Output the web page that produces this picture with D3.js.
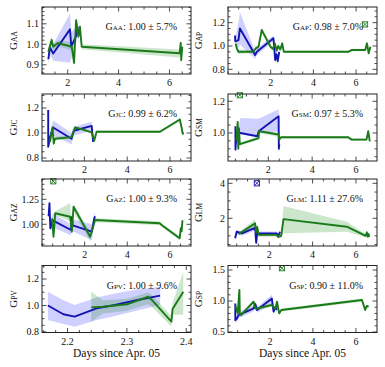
<!DOCTYPE html>
<html><head><meta charset="utf-8">
<script src="https://cdn.jsdelivr.net/npm/d3@7"></script>
<style>
body{margin:0;background:#fff}
svg text{font-family:"Liberation Serif","DejaVu Serif",serif;fill:#111}
</style></head><body>
<script>
// rows: [day, G, low, high]
const aaBlue = [[1.24,0.927,0.905,0.95],[1.30,0.985,0.95,1.01],[1.43,0.955,0.92,1.00],[2.09,1.073,0.91,1.15],[2.14,0.99,0.93,1.06],[2.33,1.04,1.00,1.08],[2.38,1.085,1.05,1.11],[2.42,1.05,1.02,1.08]];
const aaGreen = [[1.24,0.964,0.95,0.98],[1.37,1.021,1.0,1.04],[1.43,0.988,0.97,1.0],[1.62,1.006,0.99,1.02],[2.16,0.988,0.97,1.01],[2.25,0.909,0.89,0.93],[2.33,1.118,1.10,1.13],[2.42,1.037,1.02,1.05],[2.48,1.086,1.07,1.10],[2.55,0.988,0.976,1.0],[6.40,0.956,0.935,0.975],[6.44,1.006,0.99,1.02],[6.46,0.923,0.91,0.94],[6.50,0.988,0.975,1.0]];
const apBlue = [[0.33,1.09,1.07,1.11],[0.34,1.04,1.02,1.06],[0.49,1.05,0.98,1.20],[0.56,1.15,1.01,1.29],[1.27,0.923,0.89,0.955],[1.35,0.95,0.92,0.98],[2.13,1.066,1.04,1.09],[2.21,0.88,0.85,0.91],[2.27,0.93,0.90,0.96],[2.33,0.87,0.83,0.91],[2.40,0.95,0.92,0.98]];
const apGreen = [[0.36,1.02,1.0,1.04],[0.41,0.98,0.96,1.0],[0.49,0.951,0.93,0.97],[1.19,0.951,0.94,0.965],[1.30,0.98,0.965,0.995],[1.43,0.994,0.98,1.01],[1.58,1.137,1.12,1.15],[1.99,0.994,0.98,1.01],[2.10,0.975,0.96,0.99],[2.20,1.02,1.005,1.035],[2.28,0.96,0.945,0.975],[2.35,1.0,0.985,1.015],[2.45,0.97,0.955,0.985],[2.54,1.023,1.01,1.035],[2.61,0.951,0.94,0.96],[5.65,0.951,0.94,0.96],[5.81,0.966,0.955,0.977],[6.43,0.966,0.955,0.977],[6.51,1.023,1.01,1.035],[6.59,0.937,0.925,0.95],[6.67,0.994,0.98,1.005]];
const jcBlue = [[0.31,1.185,1.175,1.195],[0.31,0.89,0.88,0.90],[0.40,0.97,0.93,1.01],[0.54,1.044,0.98,1.10],[1.40,0.954,0.91,1.0],[1.51,1.018,0.98,1.05],[2.34,1.057,1.02,1.09],[2.41,0.928,0.91,0.95]];
const jcGreen = [[0.39,0.928,0.915,0.94],[0.51,1.044,1.03,1.06],[0.57,0.915,0.9,0.93],[0.62,0.954,0.94,0.97],[1.40,0.967,0.955,0.98],[1.56,1.044,1.03,1.055],[1.87,1.031,1.02,1.04],[2.34,1.005,0.995,1.015],[2.46,0.94,0.93,0.95],[2.57,1.01,1.0,1.02],[5.53,1.01,1.0,1.02],[6.46,1.108,1.095,1.12],[6.54,1.044,1.03,1.055],[6.59,0.995,0.985,1.005],[6.65,0.998,0.99,1.01]];
const smBlue = [[0.50,1.042,1.03,1.05],[0.50,0.895,0.89,0.90],[0.55,0.99,0.98,1.00],[0.73,1.00,0.99,1.095],[1.50,0.979,0.975,1.09],[1.56,1.011,1.00,1.09],[2.47,1.105,1.01,1.15],[2.48,0.90,0.89,0.91],[2.50,0.93,0.92,0.94]];
const smGreen = [[0.55,0.95,0.94,0.96],[0.60,1.07,1.06,1.08],[0.63,0.90,0.89,0.91],[0.66,1.03,1.02,1.04],[0.70,0.93,0.92,0.94],[1.56,0.968,0.955,0.98],[1.58,1.011,1.0,1.02],[2.47,0.99,0.975,1.0],[2.50,0.96,0.95,0.97],[2.59,0.973,0.965,0.98],[5.65,0.973,0.965,0.98],[5.80,0.958,0.95,0.966],[6.48,0.958,0.95,0.966],[6.56,1.011,1.0,1.02],[6.63,0.947,0.94,0.955]];
const azBlue = [[0.31,1.08,1.05,1.11],[0.35,1.21,1.18,1.24],[0.39,0.96,0.93,0.99],[0.50,1.04,0.97,1.11],[1.36,0.943,0.89,1.0],[1.40,1.07,1.01,1.12],[1.44,0.99,0.93,1.05],[2.34,0.926,0.84,1.0],[2.45,1.06,1.02,1.10],[2.49,1.08,1.05,1.11]];
const azGreen = [[0.47,1.06,1.04,1.08],[0.54,0.876,0.86,0.89],[0.62,1.11,1.09,1.13],[1.32,1.076,1.03,1.21],[1.40,0.926,0.91,0.94],[1.48,1.176,1.12,1.20],[2.26,0.876,0.83,0.92],[2.49,1.043,1.02,1.06],[5.53,1.01,0.99,1.03],[5.61,0.993,0.975,1.01],[6.46,0.86,0.84,0.88],[6.51,0.96,0.945,0.975],[6.55,0.93,0.915,0.945],[6.59,1.04,1.025,1.055]];
const lmBlue = [[0.43,0.86,0.75,0.95],[0.50,1.23,1.1,1.35],[0.74,1.14,1.0,1.25],[1.35,1.45,1.3,1.6],[1.40,0.6,0.5,0.7],[1.45,1.2,1.1,1.3],[1.51,1.14,1.0,1.25],[2.35,1.14,1.0,1.25],[2.40,0.95,0.85,1.05],[2.50,1.23,1.1,1.35]];
const lmGreen = [[0.59,1.1,1.0,1.2],[1.35,1.71,1.4,1.95],[1.40,1.2,1.1,1.3],[1.45,1.5,1.35,1.65],[1.51,1.05,0.95,1.15],[2.35,1.05,0.95,1.15],[2.45,0.95,0.85,1.05],[2.55,1.0,0.9,1.1],[2.66,1.95,1.14,2.70],[5.58,1.52,1.23,1.81],[6.45,1.0,0.9,1.1],[6.50,1.2,1.1,1.3],[6.55,0.95,0.85,1.05],[6.58,1.1,1.0,1.2],[6.62,0.95,0.85,1.05]];
const pvBlue = [[2.167,1.0,0.89,1.104],[2.193,0.934,0.86,1.04],[2.212,0.916,0.84,1.004],[2.249,0.979,0.89,1.06],[2.280,1.004,0.92,1.09],[2.316,1.04,0.96,1.12],[2.356,1.074,1.004,1.14]];
const pvGreen = [[2.240,0.986,0.878,1.104],[2.260,0.991,0.94,1.04],[2.300,1.009,0.96,1.05],[2.336,1.066,1.01,1.10],[2.342,1.042,0.99,1.08],[2.375,0.878,0.84,0.92],[2.377,0.974,0.93,1.02],[2.395,1.104,0.93,1.255]];
const spBlue = [[0.39,0.96,0.93,0.99],[0.39,0.69,0.65,0.73],[0.47,0.72,0.66,0.78],[0.54,0.774,0.72,0.83],[1.24,0.88,0.83,0.93],[1.32,0.95,0.90,1.0],[1.40,0.855,0.81,0.90],[2.09,1.04,0.95,1.10],[2.17,0.83,0.78,0.88],[2.25,0.90,0.86,0.94],[2.33,0.86,0.82,0.90]];
const spGreen = [[0.39,0.93,0.91,0.95],[0.50,0.80,0.78,0.82],[0.58,1.18,1.16,1.20],[0.60,0.80,0.78,0.82],[0.66,0.774,0.75,0.80],[1.24,0.99,0.96,1.02],[1.32,0.88,0.85,0.91],[1.40,0.88,0.85,0.91],[2.09,0.935,0.91,0.96],[2.25,0.87,0.84,0.90],[2.33,0.99,0.96,1.02],[2.43,0.80,0.78,0.82],[2.53,0.855,0.83,0.88],[6.28,1.016,0.99,1.04],[6.43,0.855,0.83,0.88],[6.50,0.92,0.9,0.94],[6.59,0.908,0.89,0.93]];

const stations = ["AA", "AP", "JC", "SM", "AZ", "LM", "PV", "SP"];
const gainText = ["1.00 ± 5.7%", "0.98 ± 7.0%", "0.99 ± 6.2%", "0.97 ± 5.3%", "1.00 ± 9.3%", "1.11 ± 27.6%", "1.00 ± 9.6%", "0.90 ± 11.0%"];
const blueSeries = [aaBlue, apBlue, jcBlue, smBlue, azBlue, lmBlue, pvBlue, spBlue];
const greenSeries = [aaGreen, apGreen, jcGreen, smGreen, azGreen, lmGreen, pvGreen, spGreen];

const xDomains = [[0.99,6.845],[0.0,6.98],[0.02,6.98],[0.16,6.96],[0.0,6.99],[0.1,6.97],[2.157,2.408],[0.05,6.98]];
const yDomains = [[0.855,1.182],[0.76,1.334],[0.776,1.312],[0.823,1.246],[0.783,1.453],[0.417,4.246],[0.796,1.302],[0.492,1.573]];
const xTicks = [[2,4,6],[2,4,6],[2,4,6],[2,4,6],[2,4,6],[2,4,6],[2.2,2.3,2.4],[2,4,6]];
const yTicks = [[0.9,1.0,1.1],[0.8,1.0,1.2],[0.8,1.0,1.2],[1.0,1.2],[1.00,1.25],[2,4],[0.8,1.0,1.2],[0.5,1.0,1.5]];
const xMinor = [0.5,0.5,0.5,0.5,0.5,0.5,0.02,0.5];
const yMinor = [0.02,0.05,0.05,0.05,0.05,0.5,0.05,0.1];
const yDecimals = [1,1,1,1,2,0,1,1];
const xDecimals = [0,0,0,0,0,0,1,0];

// points drawn with a boxed-x marker
const flagPanel = [1, 3, 4, 5, 7];
const flagDay = [6.42, 0.70, 0.53, 1.43, 2.56];
const flagG = [1.185, 1.238, 1.43, 4.0, 1.53];
const flagSeries = ["green", "green", "green", "blue", "green"];

const W = 385, H = 367;
const colX = [42, 228], frameW = 149;
const rowY = [7, 94, 179, 265.5], frameH = 67;
const lineCol = {blue: "#1414b0", green: "#1a7a1a"};
const fillCol = {blue: "rgba(60,60,255,0.24)", green: "rgba(0,128,0,0.2)"};

const svg = d3.select("body").append("svg").attr("width", W).attr("height", H);

function minorVals(dom, step, majors) {
  const out = [];
  for (let k = Math.ceil(dom[0] / step - 1e-9); k * step <= dom[1] + 1e-9; k++) {
    const v = k * step;
    if (!majors.some(m => Math.abs(m - v) < step / 10)) out.push(v);
  }
  return out;
}

stations.forEach((name, i) => {
  const c = i % 2, r = Math.floor(i / 2);
  const g = svg.append("g").attr("transform", `translate(${colX[c]},${rowY[r]})`);
  const x = d3.scaleLinear().domain(xDomains[i]).range([0, frameW]);
  const y = d3.scaleLinear().domain(yDomains[i]).range([frameH, 0]);

  svg.append("clipPath").attr("id", "clip" + i)
    .append("rect").attr("width", frameW).attr("height", frameH);
  const plot = g.append("g").attr("clip-path", `url(#clip${i})`);

  const area = d3.area().x(d => x(d[0])).y0(d => y(d[2])).y1(d => y(d[3]));
  const line = d3.line().x(d => x(d[0])).y(d => y(d[1]));

  plot.append("path").attr("d", area(blueSeries[i])).attr("fill", fillCol.blue);
  plot.append("path").attr("d", area(greenSeries[i])).attr("fill", fillCol.green);
  plot.append("path").attr("d", line(blueSeries[i])).attr("fill", "none")
    .attr("stroke", lineCol.blue).attr("stroke-width", 1.9).attr("stroke-linejoin", "round");
  plot.append("path").attr("d", line(greenSeries[i])).attr("fill", "none")
    .attr("stroke", lineCol.green).attr("stroke-width", 1.9).attr("stroke-linejoin", "round");

  flagPanel.forEach((p, j) => {
    if (p !== i) return;
    const cx = x(flagDay[j]), cy = y(flagG[j]), s = 2.6;
    const m = g.append("g").attr("stroke", lineCol[flagSeries[j]]).attr("stroke-width", 0.9).attr("fill", "none");
    m.append("rect").attr("x", cx - s).attr("y", cy - s).attr("width", 2 * s).attr("height", 2 * s);
    m.append("path").attr("d", `M${cx - s},${cy - s}L${cx + s},${cy + s}M${cx + s},${cy - s}L${cx - s},${cy + s}`);
  });

  g.append("rect").attr("width", frameW).attr("height", frameH)
    .attr("fill", "none").attr("stroke", "#222").attr("stroke-width", 1);

  const tk = g.append("g").attr("stroke", "#222").attr("stroke-width", 0.8);
  const xm = xTicks[i], ym = yTicks[i];
  const xn = minorVals(xDomains[i], xMinor[i], xm), yn = minorVals(yDomains[i], yMinor[i], ym);
  const vt = (vals, len) => vals.forEach(v => {
    tk.append("line").attr("x1", x(v)).attr("x2", x(v)).attr("y1", frameH).attr("y2", frameH - len);
    tk.append("line").attr("x1", x(v)).attr("x2", x(v)).attr("y1", 0).attr("y2", len);
  });
  const ht = (vals, len) => vals.forEach(v => {
    tk.append("line").attr("y1", y(v)).attr("y2", y(v)).attr("x1", 0).attr("x2", len);
    tk.append("line").attr("y1", y(v)).attr("y2", y(v)).attr("x1", frameW).attr("x2", frameW - len);
  });
  vt(xm, 4.5); vt(xn, 2.5); ht(ym, 4.5); ht(yn, 2.5);

  g.selectAll(".xl").data(xm).enter().append("text")
    .attr("x", d => x(d)).attr("y", frameH + 12).attr("text-anchor", "middle")
    .attr("font-size", 10).text(d => d.toFixed(xDecimals[i]));
  g.selectAll(".yl").data(ym).enter().append("text")
    .attr("x", -3).attr("y", d => y(d) + 3.4).attr("text-anchor", "end")
    .attr("font-size", 10).text(d => d.toFixed(yDecimals[i]));

  const yl = g.append("text").attr("transform", `translate(${c === 0 ? -25 : -26},${frameH / 2}) rotate(-90)`)
    .attr("text-anchor", "middle").attr("font-size", 11);
  yl.append("tspan").text("G");
  yl.append("tspan").attr("font-size", 7.5).text(name);

  const ann = g.append("text").attr("x", frameW - 14).attr("y", 23)
    .attr("text-anchor", "end").attr("font-size", 10);
  ann.append("tspan").text("G");
  ann.append("tspan").attr("font-size", 7).text(name);
  ann.append("tspan").text(": " + gainText[i]);

  if (r === 3) {
    g.append("text").attr("x", frameW / 2).attr("y", frameH + 24).attr("text-anchor", "middle")
      .attr("font-size", 11.5).text("Days since Apr. 05");
  }
});
</script></body></html>
